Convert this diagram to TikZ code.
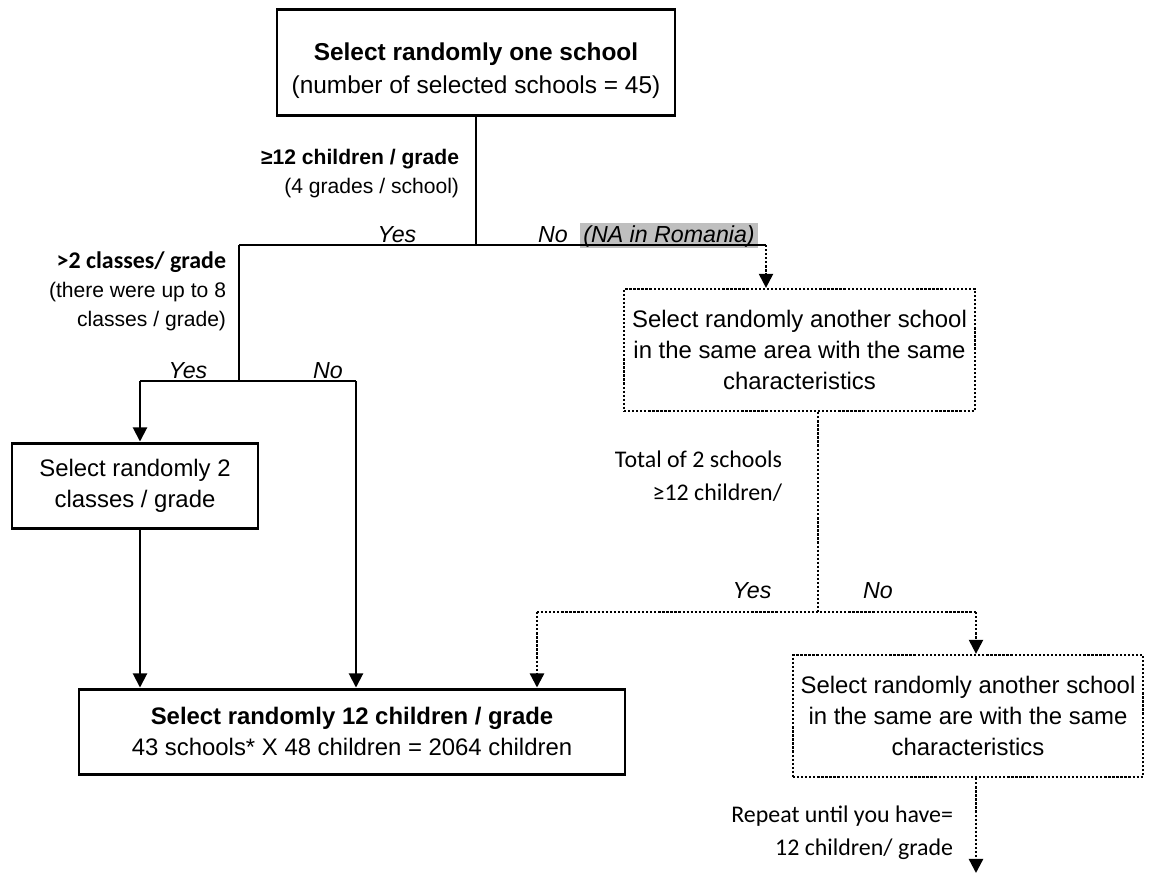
\documentclass[tikz,border=0pt]{standalone}
\usepackage{fontspec}
\setmainfont{Liberation Sans}
\newfontfamily\calibri{Carlito}
\usetikzlibrary{arrows.meta,positioning}

\begin{document}
\begin{tikzpicture}[
    font=\fontsize{13.6}{17.6}\selectfont,
    >={Triangle[width=8pt,length=8pt]},
    line width=1.1pt,
    solidbox/.style={draw, line width=1.7pt, align=center, inner sep=0pt},
    dotbox/.style={draw, densely dotted, line width=1.3pt, align=center, inner sep=0pt},
    dotline/.style={densely dotted, line width=1.3pt},
    answer/.style={font=\fontsize{13.2}{14}\selectfont\itshape, anchor=base},
    notelabel/.style={font=\fontsize{12}{16.4}\selectfont, align=right, anchor=east, inner sep=0pt},
    calibrilabel/.style={font=\fontsize{13.6}{18.7}\selectfont\calibri, align=right, anchor=east, inner sep=0pt}
]
\useasboundingbox (0,0) rectangle (23.02,-17.48);

% boxes
\node[solidbox, minimum width=7.96cm, minimum height=2.12cm, font=\fontsize{13.9}{18.5}\selectfont] (schoolbox) at (9.52,-1.24) {\rule{0pt}{20pt}\textbf{Select randomly one school}\\(number of selected schools = 45)};
\node[dotbox, minimum width=7.02cm, minimum height=2.44cm] (otherbox) at (15.99,-7.00) {Select randomly another school\\in the same area with the same\\characteristics};
\node[solidbox, minimum width=4.92cm, minimum height=1.70cm] (classbox) at (2.70,-9.71) {Select randomly 2\\classes / grade};
\node[solidbox, minimum width=10.92cm, minimum height=1.70cm] (childbox) at (7.04,-14.63) {\textbf{Select randomly 12 children / grade}\\43 schools* X 48 children = 2064 children};
\node[dotbox, minimum width=7.00cm, minimum height=2.44cm] (againbox) at (19.36,-14.32) {Select randomly another school\\in the same are with the same\\characteristics};

% labels
\node[notelabel] (gradelabel) at (9.20,-3.47) {\textbf{≥12 children / grade}\\(4 grades / school)};
\node[answer] (topyes) at (7.94,-4.84) {Yes};
\node[answer] (topno) at (11.06,-4.84) {No};
\node[answer, fill=black!25, inner xsep=1pt, inner ysep=0pt, text height=0.38cm, text depth=0.12cm, minimum width=3.56cm] (nalabel) at (13.38,-4.84) {(NA in Romania)};
\node[notelabel] (classlabel) at (4.54,-5.83) {{\calibri\bfseries\fontsize{13.6}{16}\selectfont >2 classes/ grade}\\(there were up to 8\\classes / grade)};
\node[answer] (leftyes) at (3.76,-7.56) {Yes};
\node[answer] (leftno) at (6.56,-7.56) {No};
\node[calibrilabel] (totallabel) at (15.66,-9.53) {Total of 2 schools\\≥12 children/};
\node[answer] (lowyes) at (15.04,-11.96) {Yes};
\node[answer] (lowno) at (17.56,-11.96) {No};
\node[calibrilabel] (repeatlabel) at (19.08,-16.66) {Repeat until you have=\\12 children/ grade};

% branch points
\coordinate (topsplit) at (9.52,-4.90);
\coordinate (topleft) at (4.78,-4.90);
\coordinate (topright) at (15.32,-4.90);
\coordinate (leftsplit) at (4.78,-7.62);
\coordinate (yesleft) at (2.80,-7.62);
\coordinate (noleft) at (7.12,-7.62);
\coordinate (lowsplit) at (16.36,-12.24);
\coordinate (yeslow) at (10.74,-12.24);
\coordinate (nolow) at (19.52,-12.24);
\coordinate (repeatend) at (19.52,-17.46);

% connectors
\draw (schoolbox.south) -- (topsplit);
\draw (topleft) -- (topright);
\draw[dotline, ->] (topright) -- (topright |- otherbox.north);
\draw (topleft) -- (leftsplit);
\draw (yesleft) -- (noleft);
\draw[->] (yesleft) -- (yesleft |- classbox.north);
\draw[->] (noleft) -- (noleft |- childbox.north);
\draw[->] (classbox.south -| yesleft) -- (yesleft |- childbox.north);
\draw[dotline] (otherbox.south -| lowsplit) -- (lowsplit);
\draw[dotline] (yeslow) -- (nolow);
\draw[dotline, ->] (yeslow) -- (yeslow |- childbox.north);
\draw[dotline, ->] (nolow) -- (nolow |- againbox.north);
\draw[dotline, ->] (againbox.south -| nolow) -- (repeatend);
\end{tikzpicture}
\end{document}
